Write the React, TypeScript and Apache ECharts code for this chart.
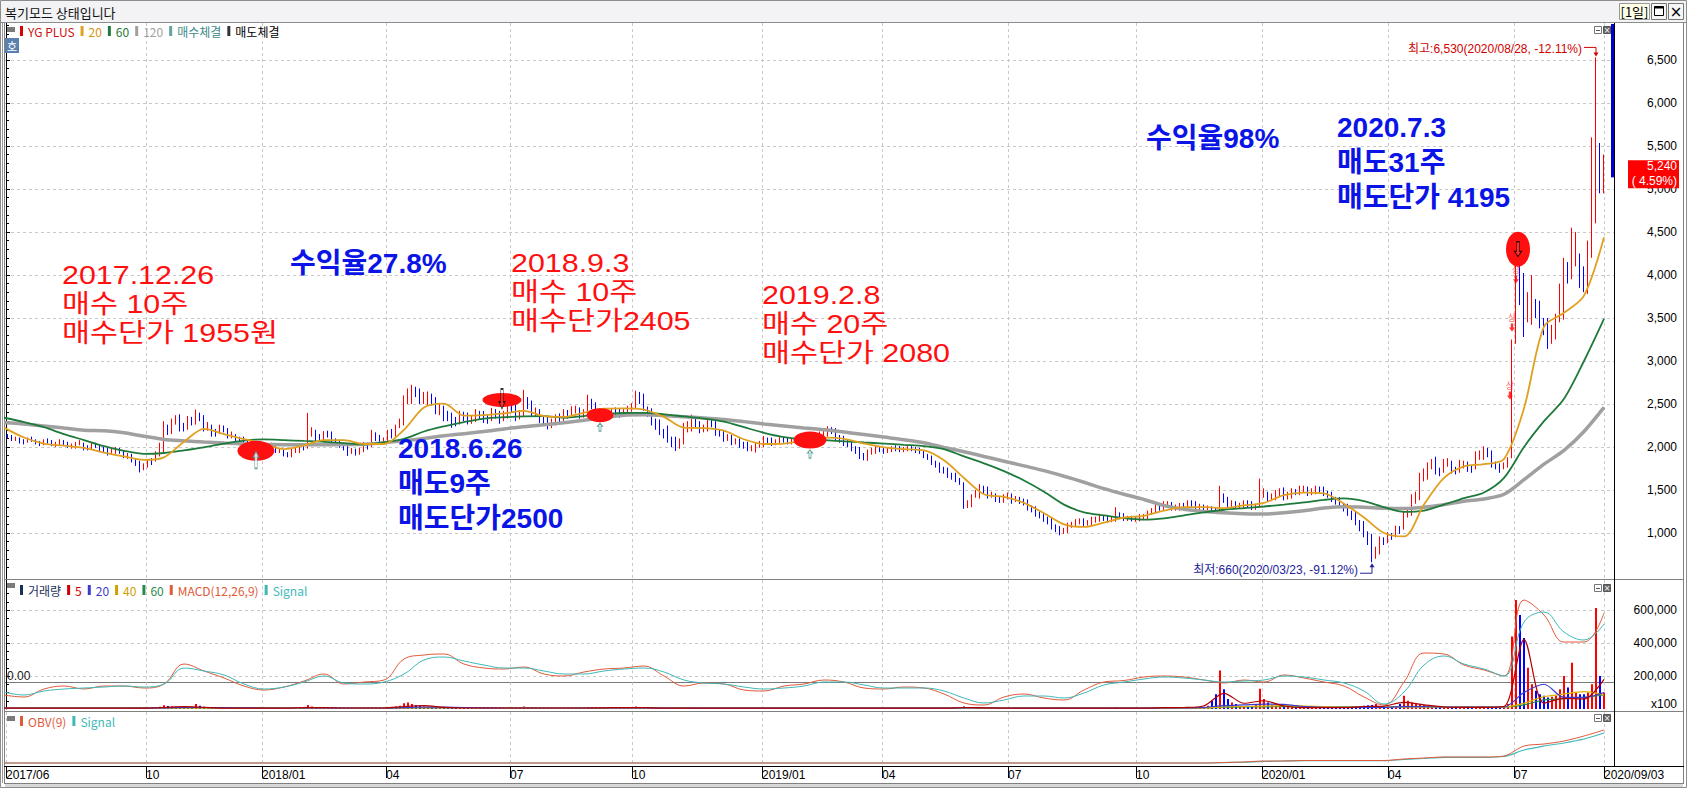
import React, { useEffect, useRef } from "react";
import * as echarts from "echarts";

// ---------------- data ----------------
const LAST_DAY = 799; // trading-day index of 2020/09/03
const BAR_STEP = 2; // sampled daily bars, every 2nd trading day
const LINE_STEP = 10; // moving averages / indicators sampled every 10 trading days
const AXIS_MIN_DAY = -0.5;
const AXIS_MAX_DAY = 804;

const dateTickDays = [0, 70, 128, 190, 252, 313, 378, 438, 501, 565, 628, 691, 754, 799];
const dateTickLabels = ["2017/06", "10", "2018/01", "04", "07", "10", "2019/01", "04", "07", "10", "2020/01", "04", "07", "2020/09/03"];
const priceTickValues = [1000, 1500, 2000, 2500, 3000, 3500, 4000, 4500, 5000, 5500, 6000, 6500];
const volumeTickValues = [200000, 400000, 600000];
const volumeLabelValues = [0, 200000, 400000, 600000];

// [open, close, low, high]
const candles = [
  [2130,2120,2100,2150],[2120,2090,2070,2140],[2095,2100,2070,2120],[2090,2080,2040,2110],[2070,2050,2030,2090],[2060,2090,2050,2110],[2090,2085,2060,2120],[2080,2050,2030,2090],[2045,2040,2010,2070],[2050,2070,2020,2090],
  [2075,2060,2040,2100],[2060,2030,2010,2080],[2030,2045,2000,2060],[2040,2060,2020,2090],[2065,2040,2020,2080],[2050,2010,1990,2060],[2005,2020,1980,2040],[2010,2040,1980,2060],[2045,2060,2020,2080],[2040,2000,1960,2050],
  [1995,1985,1960,2020],[1990,2020,1970,2060],[2030,2015,1990,2050],[2010,1980,1950,2030],[1975,1965,1930,2000],[1970,1940,1900,1990],[1935,1955,1910,1980],[1950,1970,1920,2000],[1975,1950,1920,1990],[1940,1900,1870,1960],
  [1890,1910,1860,1930],[1900,1850,1820,1920],[1840,1820,1780,1860],[1820,1760,1704,1840],[1750,1790,1730,1810],[1780,1830,1760,1860],[1830,1820,1790,1870],[1850,1900,1830,1950],[1910,1960,1890,2050],[1950,2200,1940,2300],
  [2210,2180,2140,2260],[2200,2280,2150,2330],[2290,2320,2260,2370],[2300,2250,2180,2380],[2240,2220,2180,2280],[2250,2300,2200,2360],[2310,2290,2250,2350],[2300,2380,2260,2435],[2370,2340,2300,2400],[2350,2230,2180,2370],
  [2230,2250,2190,2290],[2220,2180,2120,2260],[2170,2160,2120,2210],[2180,2220,2150,2260],[2230,2210,2170,2250],[2200,2130,2100,2220],[2130,2150,2100,2180],[2120,2100,2060,2150],[2095,2080,2050,2120],[2090,2060,2030,2120],
  [2060,2040,2010,2080],[2040,1990,1960,2060],[1985,2000,1960,2030],[1990,1960,1920,2010],[1955,1945,1920,1980],[1960,2000,1950,2040],[2005,2020,1980,2050],[1990,1960,1930,2010],[1955,1965,1930,1990],[1950,1920,1890,1970],
  [1915,1900,1880,1940],[1920,1950,1880,1980],[1955,1970,1930,2000],[1950,1990,1930,2011],[1995,1980,1960,2030],[1990,2150,1980,2396],[2160,2180,2120,2230],[2150,2120,2060,2200],[2110,2100,2070,2150],[2100,2150,2060,2185],
  [2160,2150,2110,2190],[2140,2080,2040,2180],[2075,2060,2030,2100],[2060,2010,1990,2080],[2010,1995,1960,2040],[2000,1950,1896,2030],[1945,1960,1920,1990],[1950,1930,1900,1980],[1935,1950,1910,1990],[1950,2010,1940,2060],
  [2015,2000,1970,2050],[2020,2120,2000,2200],[2125,2110,2070,2170],[2100,2060,2040,2140],[2055,2080,2030,2110],[2060,2150,2050,2200],[2160,2140,2100,2210],[2150,2240,2120,2260],[2245,2270,2220,2330],[2260,2550,2250,2600],
  [2560,2600,2500,2680],[2580,2650,2500,2723],[2660,2620,2580,2700],[2640,2560,2500,2680],[2555,2580,2500,2640],[2560,2600,2480,2646],[2600,2540,2480,2620],[2560,2420,2380,2580],[2430,2450,2370,2500],[2420,2380,2300,2480],
  [2370,2350,2300,2420],[2360,2300,2223,2400],[2300,2290,2240,2350],[2300,2360,2262,2420],[2370,2340,2300,2410],[2350,2300,2262,2400],[2300,2320,2270,2370],[2310,2370,2290,2440],[2380,2360,2320,2420],[2370,2330,2280,2420],
  [2320,2310,2270,2370],[2330,2390,2300,2454],[2400,2380,2330,2440],[2380,2340,2270,2420],[2340,2370,2300,2420],[2350,2480,2330,2560],[2490,2450,2400,2540],[2460,2360,2300,2500],[2360,2380,2320,2430],[2380,2520,2360,2665],
  [2530,2480,2440,2580],[2500,2400,2350,2540],[2400,2420,2360,2460],[2400,2330,2280,2440],[2320,2300,2250,2360],[2320,2270,2204,2360],[2260,2290,2220,2330],[2280,2340,2250,2380],[2345,2330,2290,2390],[2340,2380,2300,2440],
  [2390,2370,2330,2430],[2390,2420,2340,2473],[2430,2440,2390,2480],[2420,2380,2330,2460],[2370,2390,2340,2440],[2400,2520,2380,2608],[2520,2490,2440,2560],[2480,2400,2340,2520],[2395,2410,2360,2450],[2400,2360,2320,2430],
  [2360,2380,2330,2420],[2370,2420,2340,2450],[2425,2410,2370,2460],[2420,2390,2340,2450],[2385,2400,2350,2440],[2390,2440,2360,2480],[2440,2460,2410,2510],[2460,2580,2440,2654],[2590,2560,2500,2640],[2560,2450,2420,2620],
  [2440,2400,2350,2470],[2440,2300,2250,2450],[2290,2240,2200,2330],[2290,2180,2140,2320],[2170,2150,2100,2210],[2200,2100,2050,2250],[2090,2040,2000,2120],[2080,2000,1954,2120],[2010,2060,1980,2100],[2050,2200,2030,2280],
  [2210,2230,2170,2300],[2200,2280,2180,2377],[2290,2260,2220,2330],[2260,2200,2160,2300],[2200,2220,2170,2260],[2210,2280,2180,2340],[2290,2270,2230,2330],[2260,2180,2130,2300],[2180,2160,2120,2210],[2160,2100,2060,2185],
  [2100,2110,2070,2150],[2100,2060,2020,2140],[2055,2070,2030,2100],[2060,2030,1990,2100],[2030,2010,1980,2060],[2020,1980,1950,2060],[1975,1990,1950,2020],[1980,2010,1935,2050],[2015,2040,1990,2070],[2010,2080,2000,2127],
  [2080,2070,2030,2110],[2070,2050,2011,2110],[2045,2060,2020,2090],[2050,2090,2030,2127],[2090,2080,2050,2120],[2080,2060,2030,2110],[2060,2070,2030,2100],[2060,2080,2050,2120],[2085,2070,2040,2110],[2080,2090,2050,2130],
  [2095,2100,2060,2150],[2090,2080,2050,2140],[2075,2090,2050,2120],[2080,2150,2070,2180],[2160,2170,2120,2220],[2150,2200,2120,2242],[2200,2180,2150,2230],[2190,2110,2080,2220],[2110,2090,2050,2140],[2100,2050,2011,2130],
  [2050,2040,2000,2080],[2040,1990,1950,2060],[1990,1960,1920,2010],[1980,1900,1860,2000],[1895,1880,1845,1930],[1890,1940,1838,1970],[1945,1960,1910,1990],[1950,1980,1920,2010],[1985,1970,1940,2010],[1980,1950,1920,2000],
  [1950,1970,1930,1990],[1960,1990,1940,2010],[1995,1980,1950,2020],[1990,1970,1940,2010],[1965,1975,1940,2000],[1970,1990,1950,2010],[1990,1980,1950,2010],[1990,1960,1930,2000],[1960,1950,1920,1990],[1950,1900,1870,1960],
  [1900,1880,1850,1920],[1890,1820,1790,1900],[1820,1790,1760,1840],[1810,1740,1700,1820],[1740,1720,1690,1770],[1740,1680,1640,1760],[1680,1660,1620,1700],[1680,1620,1590,1700],[1620,1600,1560,1640],[1560,1300,1281,1590],
  [1310,1350,1290,1380],[1320,1420,1300,1450],[1430,1470,1410,1500],[1420,1530,1400,1569],[1530,1500,1460,1550],[1520,1440,1400,1540],[1440,1450,1410,1480],[1440,1400,1360,1460],[1400,1380,1350,1420],[1390,1420,1350,1450],
  [1420,1430,1390,1470],[1420,1390,1340,1460],[1390,1400,1360,1430],[1390,1380,1338,1420],[1380,1350,1320,1400],[1370,1300,1260,1390],[1300,1270,1240,1320],[1290,1230,1190,1310],[1230,1200,1170,1250],[1220,1170,1130,1240],
  [1170,1130,1100,1190],[1160,1080,1040,1180],[1080,1040,1010,1100],[1060,1010,973,1080],[1010,1030,990,1060],[1020,1090,1000,1120],[1090,1100,1060,1130],[1090,1120,1070,1160],[1120,1140,1100,1170],[1130,1110,1080,1170],
  [1110,1120,1085,1150],[1110,1150,1090,1190],[1150,1160,1120,1190],[1150,1180,1130,1223],[1185,1170,1140,1210],[1180,1150,1120,1210],[1150,1160,1125,1190],[1150,1200,1130,1300],[1200,1190,1160,1240],[1200,1160,1140,1230],
  [1160,1170,1140,1200],[1160,1150,1135,1200],[1150,1160,1130,1190],[1150,1170,1135,1220],[1175,1190,1150,1220],[1170,1230,1150,1260],[1235,1260,1210,1290],[1240,1300,1230,1340],[1305,1290,1260,1330],[1300,1330,1270,1370],
  [1330,1340,1300,1370],[1330,1290,1260,1360],[1290,1300,1260,1330],[1290,1320,1260,1350],[1320,1310,1280,1350],[1320,1350,1290,1380],[1350,1330,1300,1380],[1340,1300,1270,1370],[1300,1310,1270,1340],[1300,1280,1250,1330],
  [1280,1290,1250,1320],[1280,1260,1230,1310],[1260,1250,1230,1290],[1260,1420,1250,1549],[1420,1390,1350,1460],[1400,1330,1300,1420],[1330,1340,1300,1380],[1330,1310,1280,1370],[1310,1320,1280,1350],[1310,1350,1290,1380],
  [1350,1330,1300,1380],[1340,1300,1267,1370],[1300,1310,1270,1340],[1310,1450,1300,1632],[1450,1470,1410,1520],[1440,1400,1360,1480],[1400,1420,1370,1460],[1400,1460,1380,1500],[1460,1480,1430,1520],[1460,1430,1380,1530],
  [1430,1440,1390,1480],[1430,1480,1400,1520],[1480,1470,1440,1510],[1480,1500,1440,1550],[1500,1520,1470,1550],[1500,1470,1430,1540],[1470,1490,1440,1520],[1470,1520,1450,1550],[1520,1500,1470,1540],[1520,1470,1430,1540],
  [1470,1450,1410,1490],[1470,1400,1360,1480],[1400,1370,1330,1420],[1390,1330,1290,1417],[1330,1290,1250,1350],[1320,1240,1200,1340],[1240,1190,1150,1260],[1230,1130,1090,1250],[1130,1060,1020,1150],[1120,1000,950,1140],
  [1000,900,860,1020],[960,760,660,990],[760,800,700,840],[770,920,750,960],[920,900,860,950],[920,970,880,1010],[970,960,920,1000],[980,1050,950,1085],[1050,1030,990,1080],[1060,1200,1040,1250],
  [1200,1250,1180,1300],[1220,1380,1200,1450],[1380,1420,1340,1480],[1400,1620,1380,1700],[1620,1680,1600,1750],[1640,1780,1620,1820],[1780,1800,1740,1860],[1790,1720,1680,1887],[1720,1700,1660,1760],[1720,1800,1700,1860],
  [1800,1820,1770,1870],[1800,1740,1690,1840],[1740,1720,1680,1770],[1740,1790,1700,1850],[1790,1800,1750,1840],[1790,1760,1710,1830],[1760,1740,1700,1790],[1760,1880,1740,1950],[1880,1900,1850,1960],[1890,1950,1850,2008],
  [1950,1920,1880,1990],[1940,1800,1760,1960],[1800,1780,1740,1830],[1790,1760,1700,1810],[1760,1790,1740,1820],[1780,1850,1760,1880],[1880,3170,1870,3250],[3250,4060,3200,4174],[4050,3750,3650,4195],[3760,3600,3279,4023],
  [3600,3650,3450,3800],[3550,3650,3420,4000],[3650,3600,3500,3720],[3600,3450,3380,3700],[3450,3400,3300,3500],[3450,3300,3140,3500],[3300,3350,3200,3420],[3300,3480,3250,3550],[3480,3800,3450,3900],[3500,4050,3480,4200],
  [4050,4000,3900,4150],[4050,4200,3950,4550],[4200,4300,4100,4500],[4150,3950,3850,4250],[3950,3900,3800,4100],[3950,4250,3780,4400],[4250,5200,4200,5600],[4800,5600,4600,6530],[5500,5100,4950,5535],[5050,5240,4950,5400],
];

// volume (axis unit x100), one per bar
const volumes = [
  4000,5000,5000,4000,4000,5000,4000,3000,3000,4000,4000,5000,5000,3000,4000,4000,3000,5000,5000,4000,
  4000,3000,4000,5000,5000,6000,5000,4000,4000,5000,6000,7000,8000,9000,10000,8000,9000,10000,14000,22000,
  18000,15000,14000,12000,9000,10000,12000,30000,20000,14000,10000,9000,8000,7000,7000,8000,6000,6000,5000,5000,
  6000,7000,6000,8000,6000,5000,5000,4000,4000,5000,5000,4000,5000,6000,8000,25000,15000,12000,9000,8000,
  7000,7000,6000,6000,6000,7000,6000,5000,5000,6000,9000,12000,9000,8000,8000,10000,11000,15000,20000,35000,
  40000,30000,22000,18000,15000,14000,13000,12000,10000,9000,9000,8000,7000,7000,6000,6000,6000,7000,7000,6000,
  6000,8000,7000,6000,8000,10000,9000,8000,10000,15000,12000,9000,8000,7000,6000,6000,5000,5000,5000,6000,
  6000,7000,6000,6000,7000,12000,10000,8000,7000,6000,5000,5000,5000,5000,6000,7000,9000,15000,12000,10000,
  9000,8000,8000,7000,7000,6000,7000,7000,7000,8000,9000,9000,7000,6000,5000,5000,5000,5000,4000,4000,
  4000,4000,4000,4000,4000,5000,5000,4000,5000,6000,5000,4000,4000,5000,4000,4000,4000,4000,4000,5000,
  5000,4000,5000,6000,7000,8000,7000,6000,6000,5000,5000,5000,6000,7000,7000,6000,5000,4000,4000,4000,
  4000,4000,3000,3000,3000,4000,4000,4000,4000,5000,5000,6000,6000,7000,7000,6000,6000,6000,8000,15000,
  12000,10000,10000,9000,8000,6000,6000,5000,5000,4000,4000,4000,4000,4000,4000,5000,5000,6000,6000,6000,
  6000,7000,7000,8000,7000,6000,6000,5000,5000,4000,4000,5000,5000,6000,6000,5000,6000,12000,8000,6000,
  6000,5000,5000,5000,6000,8000,9000,12000,11000,10000,9000,8000,8000,7000,8000,9000,8000,7000,7000,6000,
  20000,50000,90000,233000,120000,60000,40000,30000,20000,15000,14000,12000,30000,122000,60000,40000,25000,20000,18000,15000,
  14000,12000,11000,10000,10000,9000,9000,10000,9000,8000,8000,9000,9000,10000,11000,12000,14000,15000,18000,20000,
  22000,25000,30000,18000,16000,15000,14000,15000,30000,81000,50000,40000,35000,30000,25000,20000,18000,15000,14000,12000,
  11000,10000,10000,9000,9000,8000,9000,12000,14000,15000,12000,10000,9000,8000,10000,30000,440000,660000,570000,430000,
  250000,150000,110000,90000,80000,70000,75000,80000,120000,200000,130000,280000,100000,90000,90000,100000,150000,612000,200000,100000,
];

const ma20 = [
  2225,2110,2040,2015,1990,1935,1890,1850,1880,2060,
  2210,2150,2090,2040,1975,2020,2080,2080,2035,2035,
  2200,2460,2505,2365,2370,2390,2420,2360,2350,2400,
  2445,2450,2435,2350,2225,2220,2190,2090,2035,2040,
  2075,2108,2095,2040,1995,1975,1960,1845,1640,1450,
  1420,1350,1230,1100,1070,1120,1180,1200,1260,1300,
  1300,1290,1320,1350,1440,1470,1460,1340,1180,1000,
  960,1330,1640,1775,1800,1860,2450,3400,3560,3760,
  4440,
];
const ma60 = [
  2340,2290,2230,2150,2080,2010,1955,1920,1930,1960,
  1995,2040,2075,2088,2080,2070,2060,2045,2031,2055,
  2095,2180,2240,2290,2330,2346,2355,2358,2340,2360,
  2380,2395,2396,2380,2355,2330,2295,2230,2165,2115,
  2090,2080,2065,2052,2040,2025,2011,1975,1890,1810,
  1720,1610,1480,1330,1240,1205,1172,1155,1170,1205,
  1240,1270,1290,1308,1330,1355,1385,1402,1370,1300,
  1245,1260,1330,1405,1470,1640,2000,2300,2560,3000,
  3490,
];
const ma120 = [
  2285,2268,2245,2220,2195,2188,2165,2125,2088,2072,
  2058,2045,2035,2030,2027,2025,2026,2028,2031,2050,
  2072,2100,2130,2155,2180,2210,2235,2258,2282,2310,
  2340,2370,2375,2365,2352,2338,2320,2295,2268,2245,
  2222,2200,2175,2145,2115,2085,2050,1995,1945,1890,
  1835,1780,1725,1660,1590,1515,1450,1390,1320,1275,
  1250,1235,1225,1220,1235,1258,1290,1305,1300,1288,
  1285,1300,1330,1370,1395,1450,1620,1800,1960,2180,
  2460,
];

const volMa5 = [
  5000,5000,5000,5000,5000,5000,5000,5000,9000,14000,
  10000,5000,5000,5000,5000,9000,8000,6000,6000,6000,
  15000,20000,10000,6000,6000,6000,6000,6000,6000,6000,
  7000,9000,8000,5000,5000,5000,5000,5000,5000,5000,
  5000,5000,5000,5000,5000,5000,5000,5000,9000,7000,
  5000,5000,5000,5000,5000,5000,5000,5000,8000,9000,
  20000,95000,35000,50000,18000,8000,8000,8000,15000,18000,
  40000,25000,12000,10000,10000,15000,420000,35000,65000,60000,
  180000,
];
const volMa20 = [
  6000,6000,6000,6000,6000,6000,6000,6000,7000,9000,
  9000,8000,7000,6000,6000,6000,7000,6000,6000,6000,
  8000,12000,11000,9000,7000,6000,6000,6000,6000,6000,
  6000,7000,7000,6000,6000,5000,5000,5000,5000,5000,
  5000,5000,5000,5000,5000,5000,5000,5000,6000,6000,
  6000,5000,5000,5000,5000,5000,5000,5000,6000,6000,
  10000,20000,25000,30000,28000,15000,10000,10000,10000,10000,
  15000,15000,12000,12000,12000,12000,100000,150000,70000,70000,
  100000,
];
const volMa40 = [
  6000,6000,6000,6000,6000,6000,6000,6000,6000,7000,
  7000,7000,7000,6000,6000,6000,6000,6000,6000,6000,
  7000,8000,9000,8000,7000,7000,6000,6000,6000,6000,
  6000,6000,6000,6000,6000,6000,5000,5000,5000,5000,
  5000,5000,5000,5000,5000,5000,5000,5000,5000,5000,
  5000,5000,5000,5000,5000,5000,5000,5000,5000,5000,
  7000,12000,15000,18000,20000,18000,15000,12000,12000,12000,
  13000,13000,12000,12000,12000,12000,35000,75000,90000,105000,
  85000,
];
const volMa60 = [
  6000,6000,6000,6000,6000,6000,6000,6000,6000,6000,
  6000,7000,7000,7000,6000,6000,6000,6000,6000,6000,
  6000,7000,7000,8000,8000,7000,7000,6000,6000,6000,
  6000,6000,6000,6000,6000,6000,6000,6000,5000,5000,
  5000,5000,5000,5000,5000,5000,5000,5000,5000,5000,
  5000,5000,5000,5000,5000,5000,5000,5000,5000,5000,
  6000,10000,12000,13000,14000,15000,14000,13000,12000,12000,
  12000,12000,12000,12000,12000,12000,25000,55000,62000,70000,
  85000,
];

const macdLine = [
  -52,-60,-28,-16,-28,-16,-16,-24,-8,72,
  44,16,-16,-32,-20,4,32,-8,0,8,
  92,108,112,72,56,52,60,32,24,40,
  52,56,64,24,-16,-4,-8,-32,-36,-16,
  -8,8,0,-24,-28,-20,-24,-48,-84,-92,
  -60,-48,-64,-72,-32,0,6,20,24,20,
  8,-4,8,0,28,16,0,-16,-60,-92,
  0,116,112,68,48,24,328,268,160,160,
  276,
];
const macdSignal = [
  -40,-52,-36,-28,-24,-20,-16,-20,-8,56,
  44,28,-8,-28,-20,0,24,-4,-8,0,
  32,88,100,84,68,56,56,44,32,32,
  44,52,56,40,8,-4,-8,-20,-28,-24,
  -16,0,0,-12,-24,-24,-24,-36,-64,-84,
  -72,-56,-56,-64,-44,-12,0,12,20,16,
  8,0,4,8,24,20,8,-4,-36,-88,
  -40,68,104,72,52,24,240,280,200,168,
  232,
];

const obvLine = [
  3,3,3,3,3,3,3,3,3,3,
  3,3,3,3,3,3,3,3,3,3,
  3,3,3,3,3,3,3,3,3,3,
  3,3,3,3,3,3,3,3,3,3,
  3,3,3,3,3,3,3,3,3,3,
  3,3,3,3,3,3,3,3,3,3,
  3,3.5,4,5,5,5.5,5.5,5.5,5.5,5.5,
  7,8,9,9,9,10,20,22,25,30,
  36,
];
const obvSignal = [
  3,3,3,3,3,3,3,3,3,3,
  3,3,3,3,3,3,3,3,3,3,
  3,3,3,3,3,3,3,3,3,3,
  3,3,3,3,3,3,3,3,3,3,
  3,3,3,3,3,3,3,3,3,3,
  3,3,3,3,3,3,3,3,3,3,
  3,3.3,3.8,4.5,5,5.3,5.3,5.3,5.3,5.3,
  6.5,7.5,8.7,8.7,8.7,9.5,16,20,23,27,
  33,
];

// trades: [trading-day, price]
const buyTrades = [[125, 1955], [297, 2405], [402, 2080]];
const sellTrades = [[248, 2500], [756, 4195]];
const upperLimitHits = [[752, 2600], [753, 3390], [755, 3950]];
const highDate = "2020/08/28";
const highPct = "-12.11%";
const lowDate = "2020/03/23";
const lowPct = "-91.12%";
const lastChangePct = " 4.59%";

// user notes written on the chart
const buyNotes = [
  "2017.12.26\n매수 10주\n매수단가 1955원",
  "2018.9.3\n매수 10주\n매수단가2405",
  "2019.2.8\n매수 20주\n매수단가 2080",
];
const sellNotes = ["2018.6.26\n매도9주\n매도단가2500", "2020.7.3\n매도31주\n매도단가 4195"];
const returnNotes = ["수익율27.8%", "수익율98%"];

// ---------------- styles ----------------
const W = 1687;
const H = 788;
const UP = "#ff0000";
const DOWN = "#0000ff";
const GRID_LINE = { color: "#c8c8c8", type: [3, 3] as number[], width: 1 };
const AXIS_FONT = "Liberation Sans";
const KR_FONT = "Noto Sans CJK KR";
const NOTE_FONT = "Liberation Sans, Noto Sans CJK KR";

const buyNotePos = [[62, 260], [511, 248], [762, 280]];
const sellNotePos = [[398, 431], [1337, 110]];
const returnNotePos = [[290, 263], [1146, 138]];

const buyMarkStyle = [
  { ellipse: [37, 20], dy: 0, arrow: [6, 17], arrowDy: 9 },
  { ellipse: [27, 14], dy: 3, arrow: [5, 8], arrowDy: 15 },
  { ellipse: [33, 17], dy: 0, arrow: [5, 8], arrowDy: 14 },
];
const sellMarkStyle = [
  { ellipse: [39, 14], dy: -4, arrow: [6, 20], arrowDy: -5 },
  { ellipse: [24, 35], dy: -9, arrow: [7, 15], arrowDy: -9 },
];

const UP_ARROW = "path://M5,0 L10,5 L7,5 L7,14 L3,14 L3,5 L0,5 Z";
const DOWN_ARROW = "path://M3,0 L7,0 L7,9 L10,9 L5,14 L0,9 L3,9 Z";
const LIMIT_ARROW = "path://M3,0 L7,0 L7,6 L10,6 L5,12 L0,6 L3,6 Z";

const displayNames: Record<string, string> = {
  MA20: "20", MA60: "60", MA120: "120",
  VMA5: "5", VMA20: "20", VMA40: "40", VMA60: "60",
  "MACD Signal": "Signal", "OBV Signal": "Signal",
};

const fmt = (v: number) => Math.round(v).toLocaleString("en-US");
const barDay = (i: number) => LAST_DAY - BAR_STEP * (candles.length - 1 - i);
const lineDay = (i: number, n: number) => LAST_DAY - LINE_STEP * (n - 1 - i);
const toLine = (arr: number[]) => arr.map((v, i) => [lineDay(i, arr.length), v]);

function buildOption(): any {
  const xAxis = (gridIndex: number, visible: boolean) => ({
    type: "value",
    gridIndex,
    min: AXIS_MIN_DAY,
    max: AXIS_MAX_DAY,
    axisLine: { show: visible, lineStyle: { color: "#000" } },
    axisTick: { show: visible, customValues: dateTickDays, length: 12, lineStyle: { color: "#000" } },
    axisLabel: {
      show: visible,
      customValues: dateTickDays,
      formatter: (v: number) => {
        const idx = dateTickDays.indexOf(Math.round(v));
        return idx >= 0 ? dateTickLabels[idx] : "";
      },
      align: "left",
      margin: 3,
      fontSize: 12,
      fontFamily: AXIS_FONT,
      color: "#000",
    },
    splitLine: { show: true, lineStyle: GRID_LINE },
  });

  const legendBase = {
    icon: "rect",
    itemWidth: 3,
    itemHeight: 10,
    itemGap: 6,
    padding: 0,
    selectedMode: false,
    textStyle: { fontSize: 12, fontFamily: KR_FONT },
    formatter: (name: string) => displayNames[name] ?? name,
  };
  const li = (name: string, color: string, textColor?: string) => ({
    name,
    itemStyle: { color, borderWidth: 0 },
    textStyle: { color: textColor ?? color },
  });

  return {
    animation: false,
    backgroundColor: "#ffffff",
    textStyle: { fontFamily: AXIS_FONT },
    grid: [
      { left: 5, right: 73, top: 23, height: 556 },
      { left: 5, right: 73, top: 580.3, height: 128.7 },
      { left: 5, right: 73, top: 712, height: 54 },
    ],
    legend: [
      {
        ...legendBase, left: 20, top: 25,
        data: [
          li("YG PLUS", "#e00000", "#cc1111"),
          li("MA20", "#e0a020", "#d8940c"),
          li("MA60", "#1e7a3a"),
          li("MA120", "#a0a0a0"),
          li("매수체결", "#3d8a8a"),
          li("매도체결", "#000000"),
        ],
      },
      {
        ...legendBase, left: 20, top: 584,
        data: [
          li("거래량", "#1a2f5a"),
          li("VMA5", "#d00000"),
          li("VMA20", "#3a3ad0"),
          li("VMA40", "#d0a000"),
          li("VMA60", "#2a8a4a"),
          li("MACD(12,26,9)", "#e05a3a"),
          li("MACD Signal", "#3fb8b8"),
        ],
      },
      {
        ...legendBase, left: 20, top: 715,
        data: [li("OBV(9)", "#e05a3a"), li("OBV Signal", "#3fb8b8")],
      },
    ],
    xAxis: [xAxis(0, false), xAxis(1, false), xAxis(2, true)],
    yAxis: [
      {
        type: "value", gridIndex: 0, position: "right",
        min: 465, max: 6930, minInterval: 500, maxInterval: 500,
        axisLine: { show: true, lineStyle: { color: "#000" } },
        axisTick: { show: true, customValues: priceTickValues, length: 4, lineStyle: { color: "#000" } },
        minorTick: { show: true, splitNumber: 5, length: 3, lineStyle: { color: "#000" } },
        axisLabel: { customValues: priceTickValues, formatter: (v: number) => fmt(v), align: "right", margin: 63, fontSize: 12, fontFamily: AXIS_FONT, color: "#000" },
        splitLine: { show: true, lineStyle: GRID_LINE },
      },
      {
        type: "value", gridIndex: 1, position: "right",
        min: 0, max: 780000, minInterval: 200000, maxInterval: 200000,
        axisLine: { show: true, lineStyle: { color: "#000" } },
        axisTick: { show: true, customValues: volumeTickValues, length: 4, lineStyle: { color: "#000" } },
        minorTick: { show: true, splitNumber: 4, length: 3, lineStyle: { color: "#000" } },
        axisLabel: {
          customValues: volumeLabelValues,
          formatter: (v: number) => (v === 0 ? "{u|x100}" : fmt(v)),
          rich: { u: { fontSize: 12, fontFamily: AXIS_FONT, color: "#000", padding: [0, 0, 10, 0] } },
          align: "right", margin: 63, fontSize: 12, fontFamily: AXIS_FONT, color: "#000",
        },
        splitLine: { show: true, lineStyle: GRID_LINE },
      },
      {
        type: "value", gridIndex: 1, position: "left",
        min: -108, max: 407,
        axisLine: { show: false },
        axisTick: { show: false, customValues: [0] },
        axisLabel: { show: true, customValues: [0], inside: true, formatter: () => "0.00", verticalAlign: "bottom", margin: 2, fontSize: 12, fontFamily: AXIS_FONT, color: "#222" },
        splitLine: { show: true, lineStyle: { color: "#7a7a7a", width: 1, type: "solid" } },
      },
      { type: "value", gridIndex: 2, min: 0, max: 54, show: false, splitLine: { show: false } },
    ],
    series: [
      {
        name: "YG PLUS", type: "candlestick", xAxisIndex: 0, yAxisIndex: 0, z: 2,
        barWidth: 1.2,
        encode: { x: 0, y: [1, 2, 3, 4] },
        data: candles.map((c, i) => [barDay(i), c[0], c[1], c[2], c[3]]),
        itemStyle: { color: UP, color0: DOWN, borderColor: UP, borderColor0: DOWN, borderWidth: 1 },
      },
      { name: "MA120", type: "line", xAxisIndex: 0, yAxisIndex: 0, z: 3, showSymbol: false, smooth: 0.3, data: toLine(ma120), lineStyle: { color: "#a0a0a0", width: 3.5 }, itemStyle: { color: "#a0a0a0" } },
      { name: "MA60", type: "line", xAxisIndex: 0, yAxisIndex: 0, z: 4, showSymbol: false, smooth: 0.3, data: toLine(ma60), lineStyle: { color: "#1e7a3a", width: 1.8 }, itemStyle: { color: "#1e7a3a" } },
      { name: "MA20", type: "line", xAxisIndex: 0, yAxisIndex: 0, z: 5, showSymbol: false, smooth: 0.3, data: toLine(ma20), lineStyle: { color: "#e0a020", width: 1.8 }, itemStyle: { color: "#e0a020" } },
      {
        name: "tradeMarks", type: "scatter", xAxisIndex: 0, yAxisIndex: 0, z: 6, silent: true,
        data: [
          ...buyTrades.map((t, i) => ({ value: t, symbolSize: buyMarkStyle[i].ellipse, symbolOffset: [0, buyMarkStyle[i].dy] })),
          ...sellTrades.map((t, i) => ({ value: t, symbolSize: sellMarkStyle[i].ellipse, symbolOffset: [0, sellMarkStyle[i].dy] })),
        ],
        symbol: "circle",
        itemStyle: { color: "#ff1010", opacity: 1 },
      },
      {
        name: "매수체결", type: "scatter", xAxisIndex: 0, yAxisIndex: 0, z: 7, silent: true,
        symbol: UP_ARROW,
        data: buyTrades.map((t, i) => ({ value: t, symbolSize: buyMarkStyle[i].arrow, symbolOffset: [0, buyMarkStyle[i].arrowDy] })),
        itemStyle: { color: "#ffffff", borderColor: "#3d8a8a", borderWidth: 1 },
      },
      {
        name: "매도체결", type: "scatter", xAxisIndex: 0, yAxisIndex: 0, z: 7, silent: true,
        symbol: DOWN_ARROW,
        data: sellTrades.map((t, i) => ({ value: t, symbolSize: sellMarkStyle[i].arrow, symbolOffset: [0, sellMarkStyle[i].arrowDy] })),
        itemStyle: { color: "rgba(255,255,255,0.15)", borderColor: "#000000", borderWidth: 1 },
      },
      {
        name: "upperLimit", type: "scatter", xAxisIndex: 0, yAxisIndex: 0, z: 7, silent: true,
        symbol: LIMIT_ARROW, symbolSize: [6, 8],
        data: upperLimitHits,
        itemStyle: { color: "#ff0000" },
        label: { show: true, position: "top", formatter: "상", distance: 1, fontSize: 9, fontFamily: KR_FONT, color: "#ff2020" },
      },
      {
        name: "거래량", type: "bar", xAxisIndex: 1, yAxisIndex: 1, z: 2, barWidth: 2,
        data: volumes.map((v, i) => ({ value: [barDay(i), v], itemStyle: { color: candles[i][1] >= candles[i][0] ? UP : DOWN } })),
        itemStyle: { color: "#1a2f5a" },
      },
      { name: "VMA60", type: "line", xAxisIndex: 1, yAxisIndex: 1, z: 3, showSymbol: false, smooth: 0.3, data: toLine(volMa60), lineStyle: { color: "#2a8a4a", width: 1.2 }, itemStyle: { color: "#2a8a4a" } },
      { name: "VMA40", type: "line", xAxisIndex: 1, yAxisIndex: 1, z: 3, showSymbol: false, smooth: 0.3, data: toLine(volMa40), lineStyle: { color: "#e0b000", width: 1.2 }, itemStyle: { color: "#e0b000" } },
      { name: "VMA20", type: "line", xAxisIndex: 1, yAxisIndex: 1, z: 3, showSymbol: false, smooth: 0.3, data: toLine(volMa20), lineStyle: { color: "#3a3ad0", width: 1.2 }, itemStyle: { color: "#3a3ad0" } },
      { name: "VMA5", type: "line", xAxisIndex: 1, yAxisIndex: 1, z: 3, showSymbol: false, smooth: 0.3, data: toLine(volMa5), lineStyle: { color: "#b00000", width: 1.2 }, itemStyle: { color: "#b00000" } },
      { name: "MACD(12,26,9)", type: "line", xAxisIndex: 1, yAxisIndex: 2, z: 4, showSymbol: false, smooth: 0.4, data: toLine(macdLine), lineStyle: { color: "#e05a3a", width: 1 }, itemStyle: { color: "#e05a3a" } },
      { name: "MACD Signal", type: "line", xAxisIndex: 1, yAxisIndex: 2, z: 4, showSymbol: false, smooth: 0.4, data: toLine(macdSignal), lineStyle: { color: "#3fb8b8", width: 1 }, itemStyle: { color: "#3fb8b8" } },
      { name: "OBV Signal", type: "line", xAxisIndex: 2, yAxisIndex: 3, z: 3, showSymbol: false, smooth: 0.3, data: toLine(obvSignal), lineStyle: { color: "#3fb8b8", width: 1.2 }, itemStyle: { color: "#3fb8b8" } },
      { name: "OBV(9)", type: "line", xAxisIndex: 2, yAxisIndex: 3, z: 4, showSymbol: false, smooth: 0.3, data: toLine(obvLine), lineStyle: { color: "#e05a3a", width: 1 }, itemStyle: { color: "#e05a3a" } },
    ],
  };
}

function buildGraphics(chart: echarts.ECharts): any[] {
  const px = (d: number, v: number) => chart.convertToPixel({ gridIndex: 0 }, [d, v]) as number[];
  const els: any[] = [];
  const line = (x1: number, y1: number, x2: number, y2: number, stroke: string, z = 1, lineWidth = 1) =>
    els.push({ type: "line", silent: true, z, shape: { x1, y1, x2, y2 }, style: { stroke, lineWidth } });
  const text = (t: string, x: number, y: number, opts: any, z = 50, scaleX = 1) =>
    els.push({ type: "text", silent: true, z, x, y, scaleX, style: { text: t, x: 0, y: 0, verticalAlign: "middle", align: "left", ...opts } });

  // title bar & window frame
  els.push({ type: "rect", silent: true, z: 90, shape: { x: 1, y: 1, width: W - 2, height: 21 }, style: { fill: "#f3f3f5" } });
  text("복기모드 상태입니다", 5, 12, { fill: "#111", fontSize: 13, fontFamily: KR_FONT }, 91);
  els.push({ type: "rect", silent: true, z: 91, shape: { x: 1619.5, y: 3.5, width: 30, height: 16 }, style: { fill: "#ffffe8", stroke: "#999" } });
  text("[1일]", 1634.5, 11.5, { fill: "#000", fontSize: 13, fontFamily: KR_FONT, align: "center" }, 92);
  els.push({ type: "rect", silent: true, z: 91, shape: { x: 1651.5, y: 3.5, width: 15, height: 16 }, style: { fill: "#f6f6f6", stroke: "#777" } });
  els.push({ type: "rect", silent: true, z: 92, shape: { x: 1654.5, y: 6.5, width: 9, height: 9 }, style: { fill: "#fff", stroke: "#000", lineWidth: 1 } });
  line(1654.5, 7.5, 1663.5, 7.5, "#000", 93, 2);
  els.push({ type: "rect", silent: true, z: 91, shape: { x: 1668.5, y: 3.5, width: 15, height: 16 }, style: { fill: "#f6f6f6", stroke: "#777" } });
  text("×", 1676, 11.5, { fill: "#000", fontSize: 15, fontFamily: "DejaVu Sans", align: "center" }, 92);
  els.push({ type: "rect", silent: true, z: 100, shape: { x: 0.5, y: 0.5, width: W - 1, height: H - 1 }, style: { fill: "none", stroke: "#8c8c8c" } });

  // panel frames
  line(1, 22.5, W - 1, 22.5, "#8c8c8c", 95);
  line(2.5, 22, 2.5, 783, "#9a9a9a");
  line(4.5, 22, 4.5, 783, "#808080");
  line(1683.5, 22, 1683.5, 783, "#808080");
  line(4, 579.5, 1684, 579.5, "#808080", 8);
  line(4, 711.5, 1684, 711.5, "#808080", 8);
  line(4, 766.5, 1684, 766.5, "#000", 8);
  line(1614.5, 23, 1614.5, 766, "#000", 8);
  line(4, 783.5, 1684, 783.5, "#808080");
  els.push({ type: "rect", silent: true, z: 1, shape: { x: 5, y: 784, width: 1678, height: 3 }, style: { fill: "#d8d8d8" } });

  // panel handles and buttons
  [27, 583, 716].forEach((y) => {
    els.push({ type: "rect", silent: true, z: 9, shape: { x: 7, y, width: 8, height: 5 }, style: { fill: "#7a7a7a" } });
  });
  els.push({ type: "rect", silent: true, z: 9, shape: { x: 5, y: 38, width: 14, height: 15 }, style: { fill: "#5b7fae" } });
  text("호", 12, 45.5, { fill: "#fff", fontSize: 11, fontFamily: KR_FONT, align: "center" }, 10);
  [26, 584, 714].forEach((y) => {
    els.push({ type: "rect", silent: true, z: 9, shape: { x: 1594.5, y: y + 0.5, width: 7, height: 7 }, style: { fill: "#fff", stroke: "#777" } });
    line(1596, y + 4.5, 1600, y + 4.5, "#555", 10);
    els.push({ type: "rect", silent: true, z: 9, shape: { x: 1603.5, y: y + 0.5, width: 7, height: 7 }, style: { fill: "#666", stroke: "#555" } });
    text("×", 1607, y + 4, { fill: "#fff", fontSize: 8, fontFamily: "DejaVu Sans", align: "center" }, 10);
  });

  // current price
  const lastIdx = candles.length - 1;
  const lastClose = candles[lastIdx][1];
  const [, cy] = px(barDay(lastIdx), lastClose);
  els.push({ type: "rect", silent: true, z: 20, shape: { x: 1611, y: 24, width: 3, height: cy + 9 - 24 }, style: { fill: "#0000cc" } });
  els.push({ type: "rect", silent: true, z: 20, shape: { x: 1628, y: cy - 8, width: 51, height: 28 }, style: { fill: "#ff0000" } });
  text(`${fmt(lastClose)}\n(${lastChangePct})`, 1677, cy + 5.5, { fill: "#fff", fontSize: 12, lineHeight: 15, fontFamily: AXIS_FONT, align: "right" }, 21);

  // high / low labels
  let hi = 0;
  let lo = 0;
  candles.forEach((c, i) => {
    if (c[3] > candles[hi][3]) hi = i;
    if (c[2] < candles[lo][2]) lo = i;
  });
  const [hx, hy] = px(barDay(hi), candles[hi][3]);
  const [lx, ly] = px(barDay(lo), candles[lo][2]);
  text(`최고:${fmt(candles[hi][3])}(${highDate}, ${highPct})`, hx - 14, hy - 8, { fill: "#d00000", fontSize: 12, fontFamily: `${AXIS_FONT}, ${KR_FONT}`, align: "right" }, 30);
  els.push({ type: "polyline", silent: true, z: 30, shape: { points: [[hx - 12, hy - 10], [hx, hy - 10], [hx, hy - 3]] }, style: { stroke: "#d00000", fill: "none", lineWidth: 1 } });
  els.push({ type: "polygon", silent: true, z: 30, shape: { points: [[hx - 2.5, hy - 5], [hx + 2.5, hy - 5], [hx, hy - 1]] }, style: { fill: "#d00000" } });
  text(`최저:${fmt(candles[lo][2])}(${lowDate}, ${lowPct})`, lx - 14, ly + 8, { fill: "#22229a", fontSize: 12, fontFamily: `${AXIS_FONT}, ${KR_FONT}`, align: "right" }, 30);
  els.push({ type: "polyline", silent: true, z: 30, shape: { points: [[lx - 12, ly + 11], [lx, ly + 11], [lx, ly + 3]] }, style: { stroke: "#22229a", fill: "none", lineWidth: 1 } });
  els.push({ type: "polygon", silent: true, z: 30, shape: { points: [[lx - 2.5, ly + 5], [lx + 2.5, ly + 5], [lx, ly + 1]] }, style: { fill: "#22229a" } });

  // user notes
  const red = { fill: "#ff1010", fontSize: 26, lineHeight: 29, fontFamily: NOTE_FONT, verticalAlign: "top" };
  const blue = { fill: "#0a14e6", fontSize: 28, lineHeight: 35, fontWeight: "bold", fontFamily: NOTE_FONT, verticalAlign: "top" };
  buyNotes.forEach((t, i) => text(t, buyNotePos[i][0], buyNotePos[i][1], red, 50, 1.17));
  sellNotes.forEach((t, i) => text(t, sellNotePos[i][0], sellNotePos[i][1], blue));
  returnNotes.forEach((t, i) => text(t, returnNotePos[i][0], returnNotePos[i][1], { ...blue, verticalAlign: "middle" }));

  return els;
}

export default function App() {
  const ref = useRef<HTMLDivElement>(null);
  useEffect(() => {
    const el = ref.current;
    if (!el) return;
    const chart = echarts.init(el, undefined, { renderer: "svg", width: W, height: H });
    chart.setOption(buildOption());
    chart.setOption({ graphic: { elements: buildGraphics(chart) } });
    return () => chart.dispose();
  }, []);
  return <div ref={ref} style={{ position: "fixed", left: 0, top: 0, width: W, height: H, background: "#fff" }} />;
}
